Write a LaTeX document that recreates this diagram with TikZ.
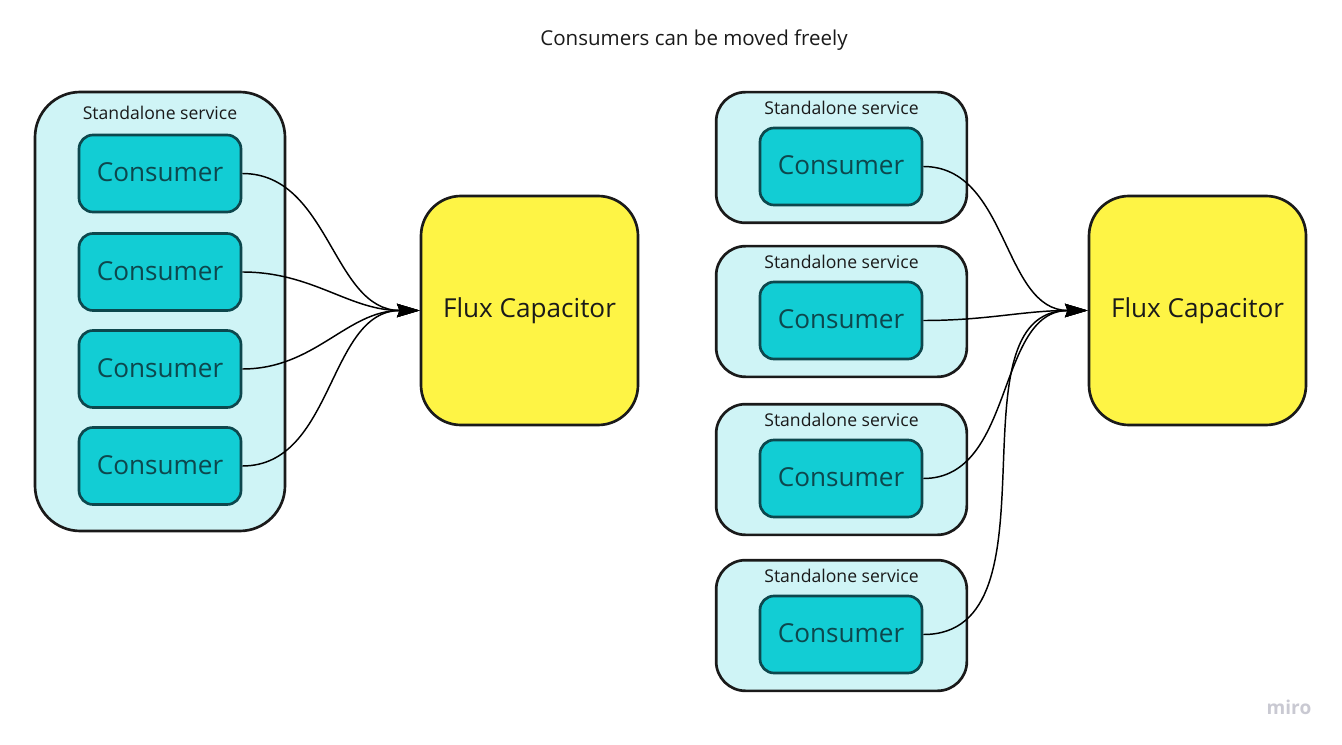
\documentclass[tikz,border=0pt]{standalone}
\usepackage{fontspec}
\setmainfont{Open Sans}
\usetikzlibrary{arrows.meta}
\definecolor{svcfill}{HTML}{CFF4F6}
\definecolor{consfill}{HTML}{12CDD4}
\definecolor{consdark}{HTML}{0D474D}
\definecolor{fluxfill}{HTML}{FEF445}
\definecolor{edgedark}{HTML}{1A1A1A}
\definecolor{mirogray}{HTML}{C9C9D2}
\begin{document}
\begin{tikzpicture}[x=0.75pt,y=-0.75pt,
  every node/.style = {inner sep=0pt},
  service/.style = {draw=edgedark, line width=2pt, fill=svcfill,
    rounded corners=22pt, minimum width=188pt, minimum height=98pt},
  consumer/.style = {draw=consdark, line width=2pt, fill=consfill,
    rounded corners=10.5pt, minimum width=121.5pt, minimum height=57.75pt,
    text=consdark, font=\fontsize{19.6}{23}\selectfont, text depth=1.5pt},
  flux/.style = {draw=edgedark, line width=2pt, fill=fluxfill,
    rounded corners=30pt, minimum width=162.75pt, minimum height=171.75pt,
    text=edgedark, font=\fontsize{19.6}{23}\selectfont},
  svclabel/.style = {text=edgedark, font=\fontsize{13.2}{16}\selectfont},
  link/.style = {draw=black, line width=1.1pt,
    -{Stealth[length=17pt,width=10pt,inset=2pt]}}]
\useasboundingbox (0,0) rectangle (1342,745);

\node[text=edgedark, font=\fontsize{15.4}{18}\selectfont] (title) at (694,40.5) {Consumers can be moved freely};

% left: one service holding all consumers
\node[service, minimum width=187.5pt, minimum height=329.25pt, rounded corners=34pt] (ls) at (160,311.5) {};
\node[svclabel] (lslabel) at (160,113) {Standalone service};
\foreach \i/\y in {1/173.5, 2/272, 3/369, 4/466}
  \node[consumer] (lc\i) at (160,\y) {Consumer};
\node[flux] (lfc) at (529.5,310.5) {Flux Capacitor};
\foreach \i in {1,...,4}
  \draw[link] (lc\i.east) to[out=0,in=180] (lfc.west);

% right: one service per consumer
\foreach \i/\y in {1/157.5, 2/311.5, 3/469.5, 4/625.5} {
  \node[service] (rs\i) at (841.5,\y) {};
  \node[svclabel] (rslabel\i) at (841.5,\y-50) {Standalone service};
  \node[consumer] (rc\i) at (841,\y+9) {Consumer};
}
\node[flux] (rfc) at (1197.5,310.5) {Flux Capacitor};
\foreach \i in {1,...,4}
  \draw[link] (rc\i.east) to[out=0,in=180] (rfc.west);

\node[text=mirogray, font=\fontsize{14.3}{17}\selectfont\bfseries] (miro) at (1289,707) {miro};
\end{tikzpicture}
\end{document}
